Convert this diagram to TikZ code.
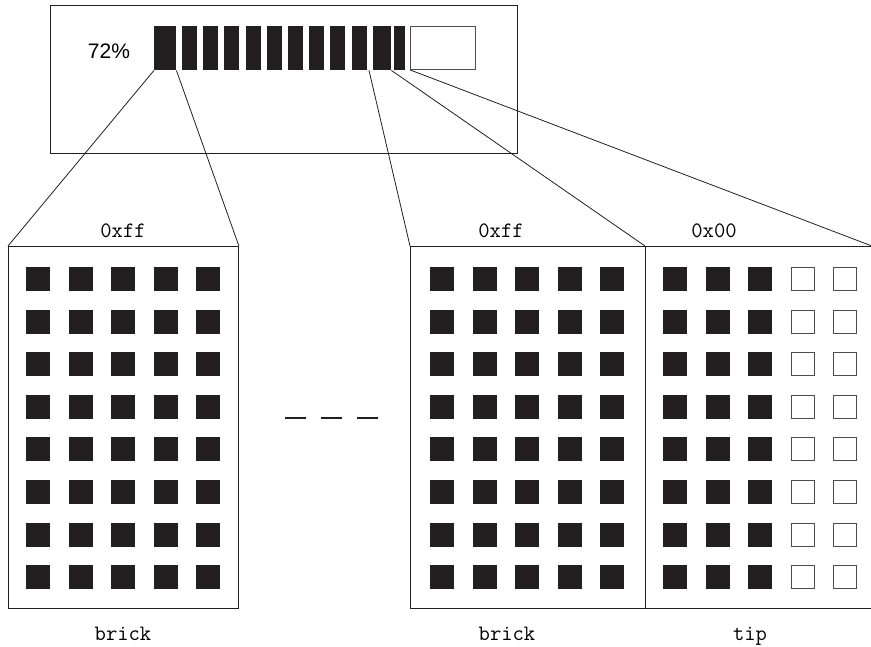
\documentclass[tikz,border=0pt]{standalone}
\usepackage{fontspec}
\setmainfont{Liberation Sans}
\usetikzlibrary{calc}
\definecolor{ink}{HTML}{231F20}
\definecolor{rim}{HTML}{4D4D4D}
\tikzset{
    bar/.style={fill=ink, inner sep=0pt, minimum height=44pt, anchor=north west},
    cell/.style={fill=ink, inner sep=0pt, minimum size=24pt},
    hollow/.style={draw=rim, fill=white, line width=1pt, inner sep=0pt, minimum size=23pt},
    frame/.style={draw=ink, line width=0.9pt, inner sep=0pt, anchor=north west},
    link/.style={draw=ink, line width=0.8pt},
    code/.style={font=\ttfamily\fontsize{22}{26}\selectfont, anchor=base}
}

\begin{document}
\begin{tikzpicture}[x=1pt, y=-1pt, line cap=butt, line join=miter]

\useasboundingbox (0,0) rectangle (871,646);

% progress panel
\node[frame, minimum width=467pt, minimum height=148pt] (panel) at (50,5) {};
\node[anchor=base, font=\fontsize{21}{25}\selectfont] (pct) at (109,58) {72\%};

\foreach \n/\x/\w in {1/154/22, 2/182/15, 3/203/15, 4/224/15, 5/246/15, 6/267/15,
                      7/288/15, 8/309/15, 9/330/15, 10/352/15, 11/373/18, 12/394/11} {
  \node[bar, minimum width=\w pt] (bar\n) at (\x,26) {};
}
\node[frame, draw=rim, minimum width=65pt, minimum height=43pt] (gauge) at (410,26) {};

% bricks and tip
\node[frame, minimum width=230pt, minimum height=362pt] (brickA) at (8,246) {};
\node[frame, minimum width=235pt, minimum height=362pt] (brickB) at (410,246) {};
\node[frame, minimum width=226pt, minimum height=362pt] (tip) at (645,246) {};

\foreach \r in {0,...,7} {
  \foreach \c in {0,...,4} {
    \node[cell] (a-\r-\c) at ({38+42.6*\c},{279+42.6*\r}) {};
    \node[cell] (b-\r-\c) at ({442+42.5*\c},{279+42.6*\r}) {};
  }
  \foreach \c in {0,1,2} {
    \node[cell] (t-\r-\c) at ({675+42.5*\c},{279+42.6*\r}) {};
  }
  \foreach \c in {3,4} {
    \node[hollow] (t-\r-\c) at ({675+42.5*\c},{279+42.6*\r}) {};
  }
}

% zoom lines
\draw[link] (bar1.south west) -- (brickA.north west);
\draw[link] (bar1.south east) -- (brickA.north east);
\draw[link] ($(bar11.south west)+(-4,0)$) -- (brickB.north west);
\draw[link] (bar11.south east) -- (tip.north west);
\draw[link] (gauge.south west) -- (tip.north east);

% gap between bricks
\draw[ink, line width=2.6pt, dash pattern=on 21pt off 15pt] (285,418) -- (378,418);

% labels
\node[code] (hexA) at (123,237) {0xff};
\node[code] (hexB) at (501,237) {0xff};
\node[code] (hexT) at (714,237) {0x00};
\node[code] (nameA) at (123,640) {brick};
\node[code] (nameB) at (507,640) {brick};
\node[code] (nameT) at (750,640) {tip};

\end{tikzpicture}
\end{document}
